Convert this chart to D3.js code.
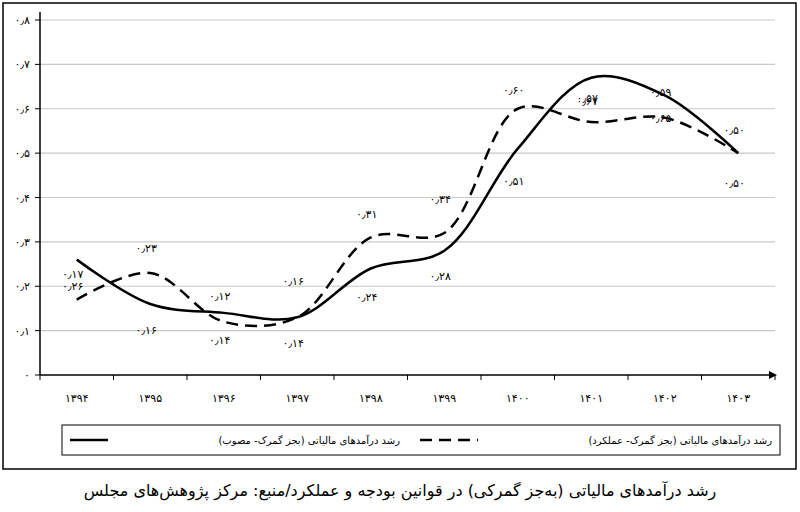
<!DOCTYPE html>
<html><head><meta charset="utf-8">
<script src="https://cdn.jsdelivr.net/npm/d3@7"></script>
<style>body{margin:0;background:#fff}text{font-family:"DejaVu Sans",sans-serif}</style>
</head><body><svg id="c" width="800" height="512"></svg>
<script>
// chart data
var years = ["۱۳۹۴","۱۳۹۵","۱۳۹۶","۱۳۹۷","۱۳۹۸","۱۳۹۹","۱۴۰۰","۱۴۰۱","۱۴۰۲","۱۴۰۳"];
var approved = [0.26, 0.16, 0.14, 0.13, 0.24, 0.28, 0.51, 0.67, 0.63, 0.50];
var actual = [0.17, 0.23, 0.12, 0.13, 0.31, 0.32, 0.60, 0.57, 0.58, 0.50];
var approvedLabels = ["۰٫۲۶","۰٫۱۶","۰٫۱۴","۰٫۱۴","۰٫۲۴","۰٫۲۸","۰٫۵۱","۰٫۶۷","۰٫۵۹","۰٫۵۰"];
var actualLabels = ["۰٫۱۷","۰٫۲۳","۰٫۱۲","۰٫۱۶","۰٫۳۱","۰٫۳۴","۰٫۶۰","۰٫۵۷","۰٫۶۵","۰٫۵۰"];
var yTicks = [0, 0.1, 0.2, 0.3, 0.4, 0.5, 0.6, 0.7, 0.8];
var tickNames = ["۰","۰٫۱","۰٫۲","۰٫۳","۰٫۴","۰٫۵","۰٫۶","۰٫۷","۰٫۸"];
var legendNames = ["رشد درآمدهای مالیاتی (بجز گمرک- مصوب)", "رشد درآمدهای مالیاتی (بجز گمرک- عملکرد)"];
var caption = "رشد درآمدهای مالیاتی (به‌جز گمرکی) در قوانین بودجه و عملکرد/منبع: مرکز پژوهش‌های مجلس";
// label offsets (px) relative to the point
var approvedDy = [26, 26, 27, 26, 28, 25, 32, 23, -3, -23];
var actualDy = [-26, -25, -26, -36, -23, -34, -19, -24, 0, 30];

var svg = d3.select("#c");
svg.append("rect").attr("x", 3).attr("y", 3).attr("width", 793).attr("height", 466)
  .attr("fill", "none").attr("stroke", "#000").attr("stroke-width", 1.5);

var pl = 40, pr = 775, pt = 20, pb = 375;
var x = d3.scalePoint().domain(years).range([pl, pr]).padding(0.5);
var y = d3.scaleLinear().domain([0, 0.8]).range([pb, pt]);

svg.selectAll(".grid").data(yTicks.slice(1)).enter().append("line")
  .attr("x1", pl).attr("x2", pr).attr("y1", y).attr("y2", y)
  .attr("stroke", "#c8c8c8").attr("stroke-width", 1.2);

// axes
svg.append("line").attr("x1", pl).attr("x2", pr).attr("y1", pb).attr("y2", pb).attr("stroke", "#000").attr("stroke-width", 1.5);
svg.append("path").attr("d", `M${pr+2},${pb} l-8,-4 v8 z`).attr("fill", "#000");
svg.append("line").attr("x1", pl).attr("x2", pl).attr("y1", pb).attr("y2", pt - 8).attr("stroke", "#000").attr("stroke-width", 1.5);
svg.selectAll(".yt").data(yTicks).enter().append("line")
  .attr("x1", pl - 5).attr("x2", pl).attr("y1", y).attr("y2", y).attr("stroke", "#000");
svg.selectAll(".yl").data(yTicks).enter().append("text")
  .attr("x", pl - 10).attr("y", d => y(d) + 4).attr("text-anchor", "end")
  .attr("font-size", 11).text((d, i) => tickNames[i]);
var step = x.step();
svg.selectAll(".xt").data(d3.range(years.length + 1)).enter().append("line")
  .attr("x1", i => pl + i * step).attr("x2", i => pl + i * step)
  .attr("y1", pb).attr("y2", pb + 5).attr("stroke", "#000");
svg.selectAll(".xl").data(years).enter().append("text")
  .attr("x", d => x(d)).attr("y", pb + 27).attr("text-anchor", "middle")
  .attr("font-size", 11).text(d => d);

var line = d3.line().x((d, i) => x(years[i])).y(d => y(d)).curve(d3.curveCatmullRom.alpha(0.5));
svg.append("path").attr("d", line(actual)).attr("fill", "none").attr("stroke", "#000")
  .attr("stroke-width", 2.5).attr("stroke-dasharray", "12,7");
svg.append("path").attr("d", line(approved)).attr("fill", "none").attr("stroke", "#000")
  .attr("stroke-width", 2.5);

svg.selectAll(".la").data(approved).enter().append("text")
  .attr("x", (d, i) => x(years[i]) - 4).attr("y", (d, i) => y(d) + approvedDy[i] + 4)
  .attr("text-anchor", "middle").attr("font-size", 11).text((d, i) => approvedLabels[i]);
svg.selectAll(".lb").data(actual).enter().append("text")
  .attr("x", (d, i) => x(years[i]) - 4).attr("y", (d, i) => y(d) + actualDy[i] + 4)
  .attr("text-anchor", "middle").attr("font-size", 11).text((d, i) => actualLabels[i]);

// legend
svg.append("rect").attr("x", 62).attr("y", 425).attr("width", 718).attr("height", 30)
  .attr("fill", "none").attr("stroke", "#000").attr("stroke-width", 1);
svg.append("line").attr("x1", 70).attr("x2", 108).attr("y1", 440).attr("y2", 440).attr("stroke", "#000").attr("stroke-width", 2.5);
svg.append("text").attr("x", 400).attr("y", 444).attr("text-anchor", "start").attr("direction", "rtl")
  .attr("font-size", 10).text(legendNames[0]);
svg.append("line").attr("x1", 420).attr("x2", 478).attr("y1", 440).attr("y2", 440).attr("stroke", "#000")
  .attr("stroke-width", 2.5).attr("stroke-dasharray", "12,7");
svg.append("text").attr("x", 772).attr("y", 444).attr("text-anchor", "start").attr("direction", "rtl")
  .attr("font-size", 10).text(legendNames[1]);

svg.append("text").attr("x", 400).attr("y", 496).attr("text-anchor", "middle").attr("direction", "rtl")
  .attr("font-size", 16).text(caption);
</script></body></html>
